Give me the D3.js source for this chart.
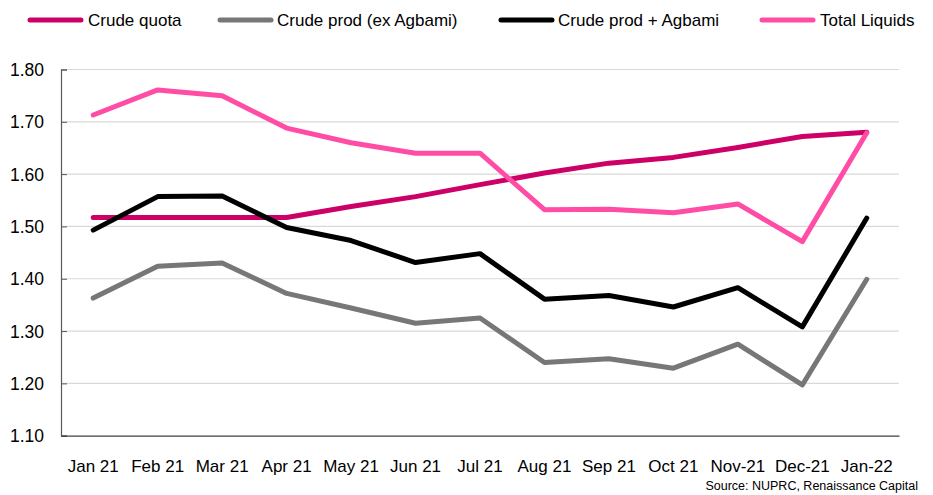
<!DOCTYPE html>
<html>
<head>
<meta charset="utf-8">
<script src="https://cdn.jsdelivr.net/npm/d3@7"></script>
<style>
  body { margin: 0; background: #fff; }
  svg text { font-family: "Liberation Sans", Arial, sans-serif; fill: #000; }
</style>
</head>
<body>
<svg width="933" height="495"></svg>
<script>
// months on x axis
const months = ["Jan 21", "Feb 21", "Mar 21", "Apr 21", "May 21", "Jun 21", "Jul 21",
    "Aug 21", "Sep 21", "Oct 21", "Nov-21", "Dec-21", "Jan-22"];

const crudeQuota = [1.517, 1.517, 1.517, 1.517, 1.538, 1.557, 1.580, 1.602, 1.621, 1.632, 1.651, 1.672, 1.680];
const crudeExAgbami = [1.363, 1.424, 1.430, 1.372, 1.344, 1.315, 1.325, 1.240, 1.247, 1.229, 1.275, 1.197, 1.399];
const crudePlusAgbami = [1.493, 1.557, 1.558, 1.498, 1.473, 1.431, 1.448, 1.361, 1.368, 1.346, 1.383, 1.308, 1.516];
const totalLiquids = [1.713, 1.761, 1.750, 1.688, 1.660, 1.640, 1.640, 1.532, 1.533, 1.526, 1.543, 1.471, 1.679];

const yTicks = [1.10, 1.20, 1.30, 1.40, 1.50, 1.60, 1.70, 1.80];

const seriesList = [
    { name: "Crude quota", values: crudeQuota, color: "#cc0066", lx: 28, tx: 88 },
    { name: "Crude prod (ex Agbami)", values: crudeExAgbami, color: "#777777", lx: 218, tx: 277 },
    { name: "Crude prod + Agbami", values: crudePlusAgbami, color: "#000000", lx: 499, tx: 558 },
    { name: "Total Liquids", values: totalLiquids, color: "#ff4da6", lx: 760, tx: 820 },
];

const svg = d3.select("svg");

const xScale = d3.scaleBand().domain(months).range([61, 899]).padding(0);
const yScale = d3.scaleLinear().domain([1.10, 1.80]).range([435.7, 69.5]);
const xc = d => xScale(d) + xScale.bandwidth() / 2;

// gridlines
svg.append("g").selectAll("line")
    .data(yTicks.slice(1))
    .enter().append("line")
    .attr("x1", 61).attr("x2", 899)
    .attr("y1", d => yScale(d)).attr("y2", d => yScale(d))
    .attr("stroke", "#d9d9d9").attr("stroke-width", 1.2);

// y axis
const yAxisG = svg.append("g").attr("transform", "translate(61,0)")
    .call(d3.axisRight(yScale).tickValues(yTicks).tickSize(6).tickFormat(d3.format(".2f")));
yAxisG.select(".domain").attr("stroke", "#595959").attr("stroke-width", 1.2);
yAxisG.selectAll(".tick line").attr("stroke", "#595959");
yAxisG.selectAll(".tick text")
    .attr("x", -17).attr("text-anchor", "end")
    .attr("font-size", "17.5px").attr("dy", "0.35em");

// x axis
const xAxisG = svg.append("g").attr("transform", "translate(0,435.7)")
    .call(d3.axisBottom(xScale).tickSize(0).tickSizeOuter(0));
xAxisG.select(".domain").attr("stroke", "#404040").attr("stroke-width", 1.2);
xAxisG.selectAll(".tick text").attr("y", 30).attr("dy", "0.35em").attr("font-size", "17px");

// lines
const lineGen = d3.line()
    .x((d, i) => xc(months[i]))
    .y(d => yScale(d));

seriesList.forEach(s => {
    svg.append("path")
        .attr("d", lineGen(s.values))
        .attr("fill", "none")
        .attr("stroke", s.color)
        .attr("stroke-width", 5)
        .attr("stroke-linejoin", "round")
        .attr("stroke-linecap", "round");
});

// legend
const legend = svg.append("g");
seriesList.forEach(s => {
    legend.append("line")
        .attr("x1", s.lx + 2).attr("x2", s.lx + 53)
        .attr("y1", 20).attr("y2", 20)
        .attr("stroke", s.color).attr("stroke-width", 5).attr("stroke-linecap", "round");
    legend.append("text")
        .attr("x", s.tx).attr("y", 20).attr("dy", "0.35em")
        .attr("font-size", "17px")
        .text(s.name);
});

// source
svg.append("text")
    .attr("x", 918).attr("y", 486).attr("dy", "0.35em")
    .attr("text-anchor", "end").attr("font-size", "12.5px")
    .text("Source: NUPRC, Renaissance Capital");
</script>
</body>
</html>
